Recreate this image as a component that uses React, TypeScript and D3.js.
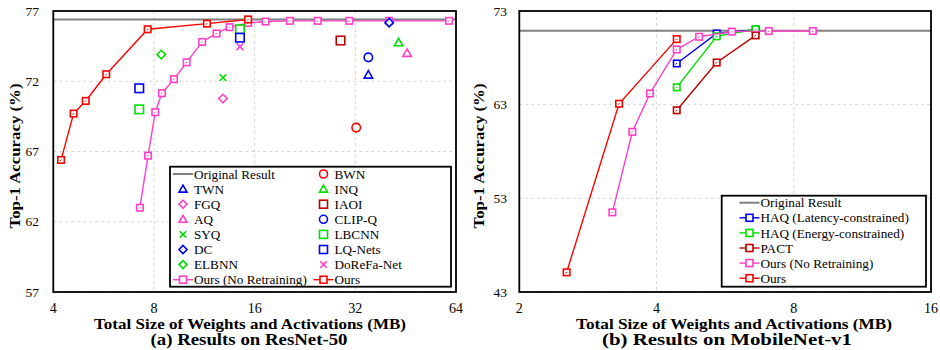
import * as d3 from 'd3';

const FONT = '"Liberation Serif", "Times New Roman", serif';

// ---- (a) ResNet-50 ----
const resTicksX = [4, 8, 16, 32, 64];
const resTicksY = [57, 62, 67, 72, 77];
const resOriginal = 76.4;
const resOursX = [4.22, 4.6, 5.0, 5.76, 7.66, 11.52, 15.3];
const resOursY = [66.4, 69.7, 70.6, 72.5, 75.7, 76.1, 76.4];
const resNoRetX = [7.26, 7.68, 8.07, 8.45, 9.18, 10.02, 11.15, 12.31, 13.46, 15.3, 17.25, 20.4, 24.7, 30.7, 40.4, 61];
const resNoRetY = [63.0, 66.7, 69.8, 71.15, 72.15, 73.35, 74.8, 75.4, 75.85, 76.15, 76.25, 76.3, 76.3, 76.3, 76.3, 76.3];
const resPointName = ['TWN', 'FGQ', 'AQ', 'SYQ', 'DC', 'ELBNN', 'BWN', 'INQ', 'IAOI', 'CLIP-Q', 'LBCNN', 'LBCNN', 'LQ-Nets', 'LQ-Nets', 'DoReFa-Net'];
const resPointX = [35, 12.86, 45.7, 12.86, 40.4, 8.41, 32.2, 43.1, 28.9, 35, 7.23, 14.46, 7.23, 14.46, 14.46];
const resPointY = [72.45, 70.77, 74.0, 72.26, 76.17, 73.9, 68.7, 74.75, 74.9, 73.7, 70.0, 75.7, 71.5, 75.1, 74.46];
const resLegendCol1 = ['Original Result', 'TWN', 'FGQ', 'AQ', 'SYQ', 'DC', 'ELBNN', 'Ours (No Retraining)'];
const resLegendCol2 = ['BWN', 'INQ', 'IAOI', 'CLIP-Q', 'LBCNN', 'LQ-Nets', 'DoReFa-Net', 'Ours'];

// ---- (b) MobileNet-v1 ----
const mobTicksX = [2, 4, 8, 16];
const mobTicksY = [43, 53, 63, 73];
const mobOriginal = 70.9;
const mobOursX = [2.54, 3.31, 4.43];
const mobOursY = [45.1, 63.1, 70.0];
const mobNoRetX = [3.2, 3.54, 3.87, 4.43, 4.96, 5.85, 7.05, 8.81];
const mobNoRetY = [51.5, 60.1, 64.2, 68.9, 70.25, 70.8, 70.86, 70.86];
const mobHaqLatX = [4.43, 5.42, 6.6];
const mobHaqLatY = [67.4, 70.6, 71.0];
const mobHaqEnX = [4.43, 5.42, 6.6];
const mobHaqEnY = [64.85, 70.3, 71.05];
const mobPactX = [4.43, 5.42, 6.6];
const mobPactY = [62.4, 67.5, 70.4];
const mobLegend = ['Original Result', 'HAQ (Latency-constrained)', 'HAQ (Energy-constrained)', 'PACT', 'Ours (No Retraining)', 'Ours'];

const PINK = '#ff3fc6';
const RED = '#ff0000';
const BLUE = '#0000ff';
const GREEN = '#00e000';
const DARKRED = '#c00000';
const GREY = '#808080';

type Shape = 'square' | 'circle' | 'triangle' | 'diamond' | 'x' | 'none';
const STYLE: Record<string, { shape: Shape; color: string; line?: boolean }> = {
  'Original Result': { shape: 'none', color: GREY, line: true },
  TWN: { shape: 'triangle', color: BLUE },
  FGQ: { shape: 'diamond', color: PINK },
  AQ: { shape: 'triangle', color: PINK },
  SYQ: { shape: 'x', color: GREEN },
  DC: { shape: 'diamond', color: BLUE },
  ELBNN: { shape: 'diamond', color: GREEN },
  BWN: { shape: 'circle', color: RED },
  INQ: { shape: 'triangle', color: GREEN },
  IAOI: { shape: 'square', color: DARKRED },
  'CLIP-Q': { shape: 'circle', color: BLUE },
  LBCNN: { shape: 'square', color: GREEN },
  'LQ-Nets': { shape: 'square', color: BLUE },
  'DoReFa-Net': { shape: 'x', color: PINK },
  'Ours (No Retraining)': { shape: 'square', color: PINK, line: true },
  Ours: { shape: 'square', color: RED, line: true },
  'HAQ (Latency-constrained)': { shape: 'square', color: BLUE, line: true },
  'HAQ (Energy-constrained)': { shape: 'square', color: GREEN, line: true },
  PACT: { shape: 'square', color: DARKRED, line: true },
};

function Marker({ shape, color, x, y, s, dot }: { shape: Shape; color: string; x: number; y: number; s: number; dot?: boolean }) {
  const h = s / 2;
  const common = { fill: 'white', stroke: color, strokeWidth: 1.6 };
  if (shape === 'square')
    return (
      <g>
        <rect x={x - h} y={y - h} width={s} height={s} {...common} />
        {dot && <line x1={x - 1} y1={y + 1} x2={x + 0.5} y2={y - 0.5} stroke={color} strokeWidth={1} />}
      </g>
    );
  if (shape === 'circle') return <circle cx={x} cy={y} r={h} {...common} />;
  if (shape === 'triangle')
    return <path d={`M${x},${y - h}L${x + h},${y + h * 0.75}L${x - h},${y + h * 0.75}Z`} {...common} />;
  if (shape === 'diamond')
    return <path d={`M${x},${y - h}L${x + h},${y}L${x},${y + h}L${x - h},${y}Z`} {...common} />;
  if (shape === 'x')
    return <path d={`M${x - h * 0.8},${y - h * 0.8}L${x + h * 0.8},${y + h * 0.8}M${x - h * 0.8},${y + h * 0.8}L${x + h * 0.8},${y - h * 0.8}`} stroke={color} strokeWidth={1.6} fill="none" />;
  return null;
}

interface Series { name: string; xs: number[]; ys: number[] }

interface PanelProps {
  left: number; right: number; top: number; bottom: number;
  ticksX: number[]; ticksY: number[];
  original: number;
  series: Series[];
  points: { name: string; x: number; y: number }[];
  legendCols: string[][];
  legendBox: [number, number, number, number];
  legendColX: number[];
  legendRowY: number;
  yLabelX: number; tickLabelX: number;
  titleX: number; titleLen: number;
  captionX: number; captionLen: number; caption: string;
}

function Panel(p: PanelProps) {
  const x = d3.scaleLog().base(2).domain([p.ticksX[0], p.ticksX[p.ticksX.length - 1]]).range([p.left, p.right]);
  const y = d3.scaleLinear().domain([p.ticksY[0], p.ticksY[p.ticksY.length - 1]]).range([p.bottom, p.top]);
  const line = d3.line<[number, number]>().x((d) => x(d[0])).y((d) => y(d[1]));
  const [bx0, by0, bx1, by1] = p.legendBox;
  const rowStep = 15.1;
  return (
    <g>
      {p.ticksX.map((t) => (
        <line key={'gx' + t} x1={x(t)} x2={x(t)} y1={p.top} y2={p.bottom} stroke="#d6d6d6" strokeDasharray="3 3" />
      ))}
      {p.ticksY.map((t) => (
        <line key={'gy' + t} x1={p.left} x2={p.right} y1={y(t)} y2={y(t)} stroke="#d6d6d6" strokeDasharray="3 3" />
      ))}
      <line x1={p.left} x2={p.right} y1={y(p.original)} y2={y(p.original)} stroke={GREY} strokeWidth={2} />
      {p.series.map((s) => {
        const st = STYLE[s.name];
        const pts = s.xs.map((v, i) => [v, s.ys[i]] as [number, number]);
        return (
          <g key={s.name}>
            <path d={line(pts) ?? ''} fill="none" stroke={st.color} strokeWidth={1.4} />
            {pts.map((d, i) => (
              <Marker key={i} shape="square" color={st.color} x={x(d[0])} y={y(d[1])} s={6.5} dot />
            ))}
          </g>
        );
      })}
      {p.points.map((d, i) => {
        const st = STYLE[d.name];
        return <Marker key={i} shape={st.shape} color={st.color} x={x(d.x)} y={y(d.y)} s={8.5} />;
      })}
      <rect x={p.left} y={p.top} width={p.right - p.left} height={p.bottom - p.top} fill="none" stroke="black" strokeWidth={1.8} />
      {p.ticksY.map((t) => (
        <text key={'ty' + t} x={p.tickLabelX} y={y(t)} dy="0.35em" textAnchor="end" fontSize={13.5} fontFamily={FONT}>{t}</text>
      ))}
      {p.ticksX.map((t) => (
        <text key={'tx' + t} x={x(t)} y={313} textAnchor="middle" fontSize={14} fontFamily={FONT}>{t}</text>
      ))}
      <text transform={`translate(${p.yLabelX},156) rotate(-90)`} dy="0.35em" textAnchor="middle" fontSize={15.5} fontWeight="bold" fontFamily={FONT} textLength={145} lengthAdjust="spacingAndGlyphs">
        Top-1 Accuracy (%)
      </text>
      <text x={p.titleX} y={329} textAnchor="middle" fontSize={14} fontWeight="bold" fontFamily={FONT} textLength={p.titleLen} lengthAdjust="spacingAndGlyphs">
        Total Size of Weights and Activations (MB)
      </text>
      <text x={p.captionX} y={345} textAnchor="middle" fontSize={16} fontWeight="bold" fontFamily={FONT} textLength={p.captionLen} lengthAdjust="spacingAndGlyphs">
        {p.caption}
      </text>
      <rect x={bx0} y={by0} width={bx1 - bx0} height={by1 - by0} fill="white" stroke="black" strokeWidth={1.8} />
      {p.legendCols.map((col, ci) =>
        col.map((name, ri) => {
          const st = STYLE[name];
          const cx = p.legendColX[ci];
          const cy = p.legendRowY + ri * rowStep;
          return (
            <g key={name}>
              {st.line && <line x1={cx - 10} x2={cx + 10} y1={cy} y2={cy} stroke={st.color} strokeWidth={name === 'Original Result' ? 2 : 1.4} />}
              <Marker shape={st.shape} color={st.color} x={cx} y={cy} s={st.line ? 7 : 8} />
              <text x={cx + 11} y={cy} dy="0.35em" fontSize={13.2} fontFamily={FONT}>{name}</text>
            </g>
          );
        }),
      )}
    </g>
  );
}

export default function App() {
  const resPoints = resPointName.map((name, i) => ({ name, x: resPointX[i], y: resPointY[i] }));
  return (
    <svg width={940} height={350} style={{ position: 'absolute', left: 0, top: 0, background: 'white' }}>
      <Panel
        left={53.3} right={456} top={11} bottom={292}
        ticksX={resTicksX} ticksY={resTicksY} original={resOriginal}
        series={[
          { name: 'Ours (No Retraining)', xs: resNoRetX, ys: resNoRetY },
          { name: 'Ours', xs: resOursX, ys: resOursY },
        ]}
        points={resPoints}
        legendCols={[resLegendCol1, resLegendCol2]}
        legendBox={[170, 166.7, 451, 286.7]}
        legendColX={[183, 323.5]}
        legendRowY={174}
        yLabelX={15} tickLabelX={39}
        titleX={250} titleLen={312}
        captionX={249} captionLen={197} caption="(a) Results on ResNet-50"
      />
      <Panel
        left={519.3} right={931} top={11} bottom={292}
        ticksX={mobTicksX} ticksY={mobTicksY} original={mobOriginal}
        series={[
          { name: 'HAQ (Latency-constrained)', xs: mobHaqLatX, ys: mobHaqLatY },
          { name: 'HAQ (Energy-constrained)', xs: mobHaqEnX, ys: mobHaqEnY },
          { name: 'PACT', xs: mobPactX, ys: mobPactY },
          { name: 'Ours (No Retraining)', xs: mobNoRetX, ys: mobNoRetY },
          { name: 'Ours', xs: mobOursX, ys: mobOursY },
        ]}
        points={[]}
        legendCols={[mobLegend]}
        legendBox={[721.7, 195.7, 926, 286.7]}
        legendColX={[749.5]}
        legendRowY={202.7}
        yLabelX={479} tickLabelX={507}
        titleX={734} titleLen={316}
        captionX={727} captionLen={250} caption="(b) Results on MobileNet-v1"
      />
    </svg>
  );
}
